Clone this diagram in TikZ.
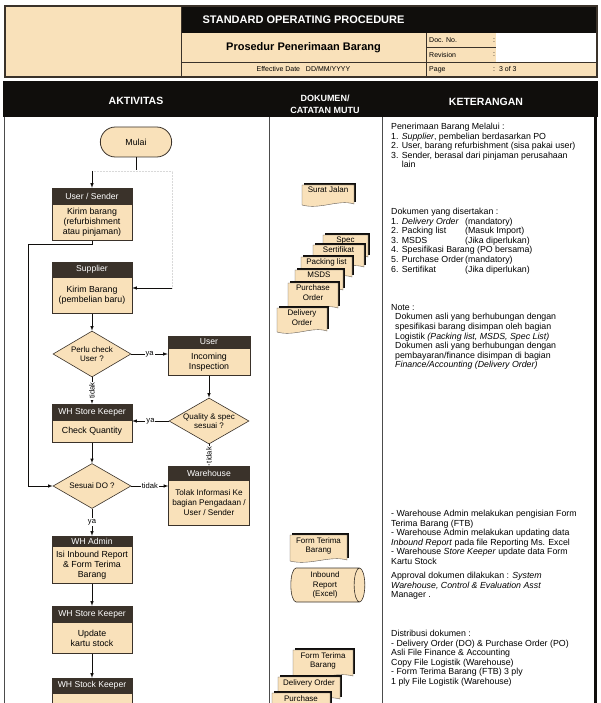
\documentclass[tikz,border=0pt]{standalone}
\usepackage{fontspec}
\setmainfont{Liberation Sans}
\usetikzlibrary{shapes.geometric,shapes.misc,calc,positioning,arrows}

\definecolor{sopbeige}{RGB}{249,225,186}
\definecolor{sopdark}{RGB}{58,50,42}
\definecolor{sopblack}{RGB}{16,14,12}

\tikzset{
  hdrbox/.style={rectangle,fill=sopdark,draw=sopdark,text=white,minimum width=80pt,inner sep=0pt,font=\fontsize{8.6}{10}\selectfont},
  actbox/.style={rectangle,fill=sopbeige,draw=sopdark,line width=0.5pt,minimum width=80pt,inner sep=0pt,align=center,font=\fontsize{8.8}{10.2}\selectfont},
  terminal/.style={rounded rectangle,fill=sopbeige,draw=sopdark,line width=0.8pt,minimum width=78pt,minimum height=30pt,font=\fontsize{8.8}{10}\selectfont},
  decision/.style={diamond,fill=sopbeige,draw=sopdark,line width=0.6pt,inner sep=0pt,minimum width=78pt,minimum height=46pt},
  dtext/.style={align=center,inner sep=0pt,font=\fontsize{8}{9.5}\selectfont},
  flow/.style={->,>=latex,line width=0.6pt,draw=sopblack},
  faint/.style={line width=0.5pt,draw=gray!30,densely dotted},
  tag/.style={fill=white,inner sep=1pt,font=\fontsize{7.6}{8}\selectfont},
  docfill/.style={fill=sopbeige,draw=sopdark!80,line width=0.4pt},
  doctext/.style={align=center,inner sep=0pt,font=\fontsize{8}{9.6}\selectfont},
  colhead/.style={text=white,align=center,font=\bfseries\fontsize{10.5}{12}\selectfont},
  note/.style={anchor=north west,align=left,inner sep=0pt,font=\fontsize{8.8}{9.6}\selectfont},
  meta/.style={inner sep=0pt,font=\fontsize{7}{8}\selectfont},
}

% document symbol: name, left, top, width, height, text
\newcommand\mutudoc[6]{%
  \fill[sopblack] (#2+2,#3-2) -- (#2+#4+2,#3-2) -- (#2+#4+2,#3+#5-4) -- (#2+2,#3+#5-4) -- cycle;
  \filldraw[docfill] (#2,#3) -- (#2+#4,#3) -- (#2+#4,#3+#5-2)
    .. controls (#2+0.7*#4,#3+#5-7) and (#2+0.35*#4,#3+#5+4) .. (#2,#3+#5-1) -- cycle;
  \node[doctext,anchor=north] (#1) at (#2+0.5*#4,#3+2) {#6};
}

\begin{document}
\begin{tikzpicture}[x=1pt,y=-1pt]
\useasboundingbox (0,0) rectangle (600,703);
\clip (0,0) rectangle (600,703);

% title block
\fill[sopbeige] (5,6) rectangle (597,77);
\fill[sopblack] (181,6) rectangle (597,33);
\fill[white] (496,33) rectangle (597,62);
\draw[sopdark,line width=0.6pt] (181,6) -- (181,77) (426,33) -- (426,77) (181,62) -- (597,62) (426,47.5) -- (496,47.5);
\draw[sopdark,line width=1.2pt] (5,6) rectangle (597,77);
\node[text=white,font=\bfseries\fontsize{11}{13}\selectfont] (sop) at (303.5,20) {STANDARD OPERATING PROCEDURE};
\node[font=\bfseries\fontsize{11}{13}\selectfont] (judul) at (303.5,48) {Prosedur Penerimaan Barang};
\node[meta] (efdate) at (303.5,69.5) {Effective Date \ \ DD/MM/YYYY};
\node[meta,anchor=west] (docno) at (429,40.5) {Doc. No.};
\node[meta,anchor=west] (docnoc) at (493,40.5) {:};
\node[meta,anchor=west] (rev) at (429,55) {Revision};
\node[meta,anchor=west] (revc) at (493,55) {:};
\node[meta,anchor=west] (page) at (429,69.5) {Page};
\node[meta,anchor=west] (pagec) at (493,69.5) {:\ \ 3 of 3};

% table frame
\fill[sopblack] (3,81) rectangle (598,117);
\draw[gray!60!black,line width=0.8pt] (4,117) -- (4,703) (269,117) -- (269,703) (382,117) -- (382,703);
\draw[sopblack,line width=3pt] (595,81) -- (595,703);
\node[colhead] (hakt) at (136,101) {AKTIVITAS};
\node[colhead,font=\bfseries\fontsize{9}{12}\selectfont] (hdok) at (325,104) {DOKUMEN/\\CATATAN MUTU};
\node[colhead] (hket) at (486,102) {KETERANGAN};

% aktivitas
\node[terminal] (mulai) at (136,142) {Mulai};

\node[hdrbox,minimum height=16pt] (ush) at (92,196) {User / Sender};
\node[actbox,minimum height=36pt,below=0pt of ush] (us) {Kirim barang\\(refurbishment\\atau pinjaman)};

\node[hdrbox,minimum height=15pt] (splh) at (92,269.5) {Supplier};
\node[actbox,minimum height=36pt,below=0pt of splh] (spl) {Kirim Barang\\(pembelian baru)};

\node[decision,label={[dtext]center:{Perlu check\\User ?}}] (cekuser) at (92,354) {};

\node[hdrbox,minimum width=82pt,minimum height=12pt] (usrh) at (209,342) {User};
\node[actbox,minimum width=82pt,minimum height=27pt,below=0pt of usrh] (usr) {Incoming\\Inspection};

\node[hdrbox,minimum height=16pt] (whsh) at (92,412) {WH Store Keeper};
\node[actbox,minimum height=22pt,below=0pt of whsh] (whs) {Check Quantity};

\node[decision,minimum width=80pt,label={[dtext]center:{Quality \& spec\\sesuai ?}}] (quality) at (209,421) {};

\node[decision,minimum height=45pt,label={[dtext]center:{Sesuai DO ?}}] (sesuaido) at (92,486) {};

\node[hdrbox,minimum width=81pt,minimum height=14pt] (wareh) at (209,473) {Warehouse};
\node[actbox,minimum width=81pt,minimum height=45pt,below=0pt of wareh,font=\fontsize{8.2}{10}\selectfont] (wareb) {Tolak Informasi Ke\\bagian Pengadaan /\\User / Sender};

\node[hdrbox,minimum height=10pt] (wah) at (92,541) {WH Admin};
\node[actbox,minimum height=37pt,below=0pt of wah] (wa) {Isi Inbound Report\\\& Form Terima\\Barang};

\node[hdrbox,minimum height=16pt] (wskh) at (92,614) {WH Store Keeper};
\node[actbox,minimum height=31pt,below=0pt of wskh] (wsk) {Update\\kartu stock};

\node[hdrbox,minimum height=15pt] (wstkh) at (92,685.5) {WH Stock Keeper};
\node[actbox,minimum height=40pt,below=0pt of wstkh] (wstk) {};

% connectors
\coordinate (split) at (136,170);
\coordinate (toleft) at (92,171);
\coordinate (toright) at (172,171);
\coordinate (spin) at (172,288);
\coordinate (rail) at (28,244);
\draw[line width=0.6pt,sopblack] (mulai.south) -- (split);
\draw[faint] (toleft) -- (toright) -- (spin);
\draw[flow] (toleft) -- (ush);
\draw[flow] (spin) -- (spin -| spl.east);
\draw[flow] (us.south) |- (rail) |- (sesuaido.west);
\draw[flow] (spl) -- (cekuser);
\draw[flow] (cekuser.east) -- node[tag]{ya} (cekuser.east -| usr.west);
\draw[flow] (cekuser) -- node[tag,rotate=90]{tidak} (whsh);
\draw[flow] (usr) -- (quality);
\draw[flow] (quality.west) -- node[tag]{ya} (quality.west -| whs.east);
\draw[flow] (quality) -- node[tag,rotate=90]{tidak} (wareh);
\draw[flow] (whs) -- (sesuaido);
\draw[flow] (sesuaido.east) -- node[tag]{tidak} (sesuaido.east -| wareb.west);
\draw[flow] (sesuaido) -- node[tag]{ya} (wah);
\draw[flow] (wa) -- (wskh);
\draw[flow] (wsk) -- (wstkh);

% dokumen / catatan mutu
\mutudoc{sj}{302}{185}{52}{21}{Surat Jalan}
\mutudoc{spec}{323}{235}{45}{24}{Spec}
\mutudoc{sert}{313}{245}{51}{24}{Sertifikat}
\mutudoc{pl}{301}{257}{51}{22}{Packing list}
\mutudoc{msds}{295}{270}{48}{22}{MSDS}
\mutudoc{po}{288}{283}{50}{27}{Purchase\\Order}
\mutudoc{do}{277}{308}{50}{25}{Delivery\\Order}

\mutudoc{ftb}{290}{535}{57}{27}{Form Terima\\Barang}
\node[cylinder,aspect=0.4,fill=sopbeige,draw=sopdark,line width=0.6pt,minimum width=34pt,minimum height=74pt,inner sep=0pt,align=center,font=\fontsize{8}{9.6}\selectfont] (inbound) at (325,585) {Inbound\\Report\\(Excel)};

\mutudoc{ftbb}{293}{650}{60}{28}{Form Terima\\Barang}
\mutudoc{dob}{278}{677}{62}{24}{Delivery Order}
\mutudoc{pob}{272}{693}{58}{24}{Purchase}

% keterangan
\node[note] (ketvia) at (391,123) {Penerimaan Barang Melalui :\\
1. \textit{Supplier}, pembelian berdasarkan PO\\
2. User, barang refurbishment (sisa pakai user)\\
3. Sender, berasal dari pinjaman perusahaan\\
\phantom{3. }lain};

\node[note] (ketdok) at (391,208) {Dokumen yang disertakan :\\
\makebox[74pt][l]{1. \textit{Delivery Order}}(mandatory)\\
\makebox[74pt][l]{2. Packing list}(Masuk Import)\\
\makebox[74pt][l]{3. MSDS}(Jika diperlukan)\\
4. Spesifikasi Barang (PO bersama)\\
\makebox[74pt][l]{5. Purchase Order}(mandatory)\\
\makebox[74pt][l]{6. Sertifikat}(Jika diperlukan)};

\node[note] (ketnote) at (391,304) {Note :\\
\hspace*{4pt}Dokumen asli yang berhubungan dengan\\
\hspace*{4pt}spesifikasi barang disimpan oleh bagian\\
\hspace*{4pt}Logistik \textit{(Packing list, MSDS, Spec List)}\\
\hspace*{4pt}Dokumen asli yang berhubungan dengan\\
\hspace*{4pt}pembayaran/finance disimpan di bagian\\
\hspace*{4pt}\textit{Finance/Accounting (Delivery Order)}};

\node[note] (ketftb) at (391,510) {- Warehouse Admin melakukan pengisian Form\\
Terima Barang (FTB)\\
- Warehouse Admin melakukan updating data\\
\textit{Inbound Report} pada file Reporting Ms. Excel\\
- Warehouse \textit{Store Keeper} update data Form\\
Kartu Stock};

\node[note] (ketappr) at (391,572) {Approval dokumen dilakukan : \textit{System}\\
\textit{Warehouse, Control \& Evaluation Asst}\\
Manager .};

\node[note] (ketdist) at (391,630) {Distribusi dokumen :\\
- Delivery Order (DO) \& Purchase Order (PO)\\
Asli File Finance \& Accounting\\
Copy File Logistik (Warehouse)\\
- Form Terima Barang (FTB) 3 ply\\
1 ply File Logistik (Warehouse)};
\end{tikzpicture}
\end{document}
